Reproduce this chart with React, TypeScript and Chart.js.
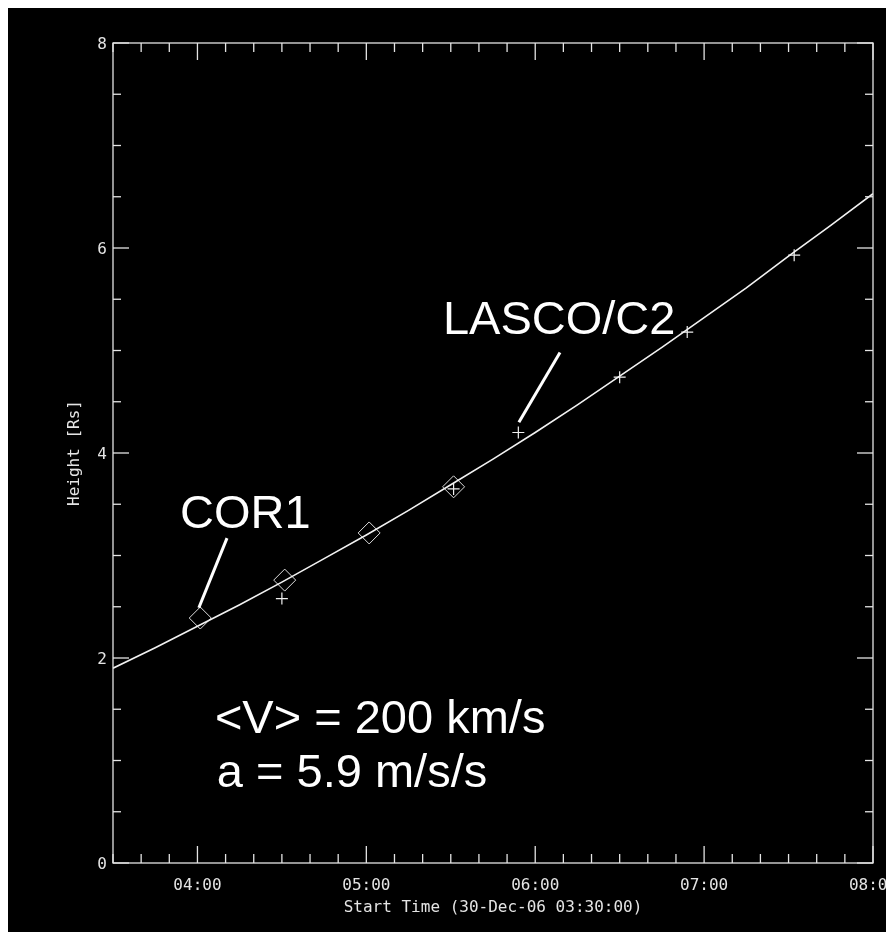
import React, { useEffect, useRef } from 'react';
import { Chart, registerables } from 'chart.js';

Chart.register(...registerables);

// Time axis is in minutes after 03:30:00 (30-Dec-06)
const fitTimes = [0, 15, 30, 45, 60, 75, 90, 105, 120, 135, 150, 165, 180, 195, 210, 225, 240, 255, 270];
const fitHeights = [1.9, 2.1, 2.31, 2.52, 2.74, 2.97, 3.2, 3.44, 3.69, 3.94, 4.2, 4.47, 4.75, 5.03, 5.32, 5.61, 5.92, 6.22, 6.53];

const cor1Times = [31, 61, 91, 121];
const cor1Heights = [2.39, 2.76, 3.22, 3.67];

const lascoTimes = [60, 121, 144, 180, 204, 242];
const lascoHeights = [2.58, 3.65, 4.2, 4.74, 5.18, 5.93];

const xMajorMinutes = [30, 90, 150, 210, 270];
const xTickLabels = ['04:00', '05:00', '06:00', '07:00', '08:00'];
const xMinorStep = 10;
const yMajorValues = [0, 2, 4, 6, 8];
const yTickLabels = ['0', '2', '4', '6', '8'];
const yMinorStep = 0.5;

const xTitle = 'Start Time (30-Dec-06 03:30:00)';
const yTitle = 'Height [Rs]';

// annotation texts anchored in data coordinates (minutes, Rs)
const noteTexts = ['COR1', 'LASCO/C2', '<V> = 200 km/s', 'a = 5.9 m/s/s'];
const noteX = [23.8, 117.2, 36.2, 36.9];
const noteY = [3.27, 5.16, 1.27, 0.74];
const pointerFromX = [40.5, 158.8];
const pointerFromY = [3.17, 4.98];
const pointerToX = [30.5, 144.2];
const pointerToY = [2.49, 4.3];

const AXIS_COLOR = '#e4e4e4';
const TICK_FONT = '16px "DejaVu Sans Mono", "Liberation Mono", monospace';

const idlPlugin = {
  id: 'idlFrame',
  beforeDraw(chart: any) {
    const { ctx, width, height } = chart;
    ctx.save();
    ctx.fillStyle = '#000000';
    ctx.fillRect(0, 0, width, height);
    ctx.restore();
  },
  afterDraw(chart: any) {
    const { ctx, chartArea: a, scales } = chart;
    const xs = scales.x;
    const ys = scales.y;
    ctx.save();
    ctx.strokeStyle = AXIS_COLOR;
    ctx.lineWidth = 1.3;
    ctx.strokeRect(a.left, a.top, a.right - a.left, a.bottom - a.top);

    const line = (x1: number, y1: number, x2: number, y2: number) => {
      ctx.beginPath();
      ctx.moveTo(x1, y1);
      ctx.lineTo(x2, y2);
      ctx.stroke();
    };

    // x ticks (bottom and top, inward)
    for (let m = xs.min; m <= xs.max + 0.001; m += xMinorStep) {
      const px = xs.getPixelForValue(m);
      const major = xMajorMinutes.includes(m);
      const len = major ? 17 : 9;
      line(px, a.bottom, px, a.bottom - len);
      line(px, a.top, px, a.top + len);
    }
    // y ticks (left and right, inward)
    for (let v = ys.min; v <= ys.max + 0.001; v += yMinorStep) {
      const py = ys.getPixelForValue(v);
      const major = yMajorValues.includes(v);
      const len = major ? 16 : 8;
      line(a.left, py, a.left + len, py);
      line(a.right, py, a.right - len, py);
    }

    // tick labels
    ctx.fillStyle = AXIS_COLOR;
    ctx.font = TICK_FONT;
    ctx.textAlign = 'center';
    ctx.textBaseline = 'middle';
    xMajorMinutes.forEach((m, i) => {
      ctx.fillText(xTickLabels[i], xs.getPixelForValue(m), a.bottom + 23);
    });
    ctx.textAlign = 'right';
    yMajorValues.forEach((v, i) => {
      ctx.fillText(yTickLabels[i], a.left - 6, ys.getPixelForValue(v) + 2);
    });

    // axis titles
    ctx.textAlign = 'center';
    ctx.fillText(xTitle, (a.left + a.right) / 2, a.bottom + 45);
    ctx.save();
    ctx.translate(a.left - 38, (a.top + a.bottom) / 2);
    ctx.rotate(-Math.PI / 2);
    ctx.fillText(yTitle, 0, 0);
    ctx.restore();

    // annotations
    ctx.fillStyle = '#ffffff';
    ctx.font = '47px "Liberation Sans", Arial, sans-serif';
    ctx.textAlign = 'left';
    ctx.textBaseline = 'alphabetic';
    noteTexts.forEach((t, i) => {
      ctx.fillText(t, xs.getPixelForValue(noteX[i]), ys.getPixelForValue(noteY[i]));
    });
    ctx.strokeStyle = '#ffffff';
    ctx.lineWidth = 3;
    pointerFromX.forEach((fx, i) => {
      line(
        xs.getPixelForValue(fx),
        ys.getPixelForValue(pointerFromY[i]),
        xs.getPixelForValue(pointerToX[i]),
        ys.getPixelForValue(pointerToY[i])
      );
    });
    ctx.restore();
  },
};

export default function App() {
  const canvasRef = useRef<HTMLCanvasElement | null>(null);

  useEffect(() => {
    document.documentElement.style.overflow = 'hidden';
    document.body.style.overflow = 'hidden';
    const canvas = canvasRef.current;
    if (!canvas) return;
    const chart = new Chart(canvas, {
      type: 'scatter',
      data: {
        datasets: [
          {
            label: 'fit',
            data: fitTimes.map((t, i) => ({ x: t, y: fitHeights[i] })),
            showLine: true,
            borderColor: '#f2f2f2',
            borderWidth: 1.6,
            pointRadius: 0,
            tension: 0,
          },
          {
            label: 'COR1',
            data: cor1Times.map((t, i) => ({ x: t, y: cor1Heights[i] })),
            showLine: false,
            pointStyle: 'rectRot',
            pointRadius: 11,
            borderColor: '#dcdcdc',
            backgroundColor: 'rgba(0,0,0,0)',
            borderWidth: 1,
          },
          {
            label: 'LASCO/C2',
            data: lascoTimes.map((t, i) => ({ x: t, y: lascoHeights[i] })),
            showLine: false,
            pointStyle: 'cross',
            pointRadius: 6,
            borderColor: '#f0f0f0',
            backgroundColor: 'rgba(0,0,0,0)',
            borderWidth: 1.2,
          },
        ],
      } as any,
      options: {
        responsive: false,
        animation: false,
        events: [],
        layout: { padding: { top: 35, right: 21, bottom: 0, left: 0 } },
        plugins: { legend: { display: false }, tooltip: { enabled: false } },
        scales: {
          x: {
            type: 'linear',
            min: 0,
            max: 270,
            grid: { display: false },
            border: { display: false },
            ticks: { display: false },
            afterFit: (s: any) => {
              s.height = 69;
            },
          },
          y: {
            type: 'linear',
            min: 0,
            max: 8,
            grid: { display: false },
            border: { display: false },
            ticks: { display: false },
            afterFit: (s: any) => {
              s.width = 105;
            },
          },
        },
      } as any,
      plugins: [idlPlugin],
    });
    return () => chart.destroy();
  }, []);

  return (
    <canvas
      ref={canvasRef}
      width={886}
      height={924}
      style={{ display: 'block', width: 886, height: 924, background: '#000' }}
    />
  );
}
